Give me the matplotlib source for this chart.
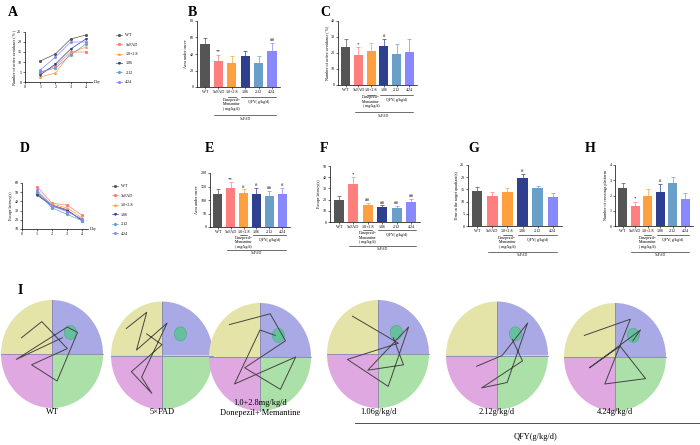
import numpy as np
import matplotlib
matplotlib.use("Agg")
import matplotlib.pyplot as plt
from matplotlib.patches import Wedge, Ellipse

plt.rcParams['font.family'] = ['Liberation Serif', 'DejaVu Serif']

W, H = 700, 445
groups = ['WT', '5xFAD', '1.0+2.8', '1.06', '2.12', '4.24']
colors = ['#555555', '#ff7f7f', '#ffa040', '#2f3f8f', '#6aa0c8', '#8888ff']
days = [1, 2, 3, 4]

# A: number of active avoidance (%)
a_lines = [[10.5, 14, 21.5, 23.5], [4.5, 8, 15, 15], [2.5, 4.5, 14.5, 17.5],
           [3.5, 9, 16.5, 21.5], [5, 7, 13.5, 19], [6, 12.5, 20, 20]]
# D: escape latency
d_lines = [[48, 36, 31, 19], [56, 38, 36, 25], [50, 37, 33, 22],
           [47, 35, 30, 20], [50, 33, 26, 19], [52, 35, 29, 21]]

b_vals = [52, 32, 29, 37, 29, 44]; b_err = [7, 7, 8, 7, 8, 9]
c_vals = [23.5, 18.5, 21, 24.5, 19.5, 20.5]; c_err = [5.5, 5, 5, 4, 6, 8]
e_vals = [122, 145, 127, 124, 114, 122]; e_err = [20, 22, 12, 20, 20, 22]
f_vals = [20, 34, 15, 13, 12.5, 18]; f_err = [3, 6, 2, 2, 2, 2.5]
g_vals = [14.5, 12.5, 14, 19.5, 15.5, 12]; g_err = [1.5, 1.5, 1.5, 2, 1, 1.5]
h_vals = [2.5, 1.3, 2.0, 2.25, 2.85, 1.8]; h_err = [0.35, 0.3, 0.4, 0.5, 0.35, 0.35]

b_marks = ['', '**', '', '', '', '##']
c_marks = ['', '*', '', '#', '', '']
e_marks = ['', '**', '#', '#', '##', '#']
f_marks = ['', '*', '##', '##', '##', '##']
g_marks = ['', '', '', '#', '', '']
h_marks = ['', '*', '', '#', '', '']

maze_labels = ['WT', '5×FAD', '1.0+2.8mg/kg/d\nDonepezil+ Memantine',
               '1.06g/kg/d', '2.12g/kg/d', '4.24g/kg/d']
# rough swim paths (unit circle coords), one per maze
paths = [
    [(-0.6, 0.3), (-0.2, 0.6), (0.3, 0.1), (-0.4, -0.2), (0.1, -0.5), (0.5, 0.4), (0.3, 0.5), (-0.7, -0.1), (0.2, 0.3)],
    [(-0.7, 0.5), (-0.3, 0.8), (-0.5, 0.1), (0.1, 0.6), (-0.4, -0.4), (-0.2, -0.7), (-0.6, -0.3), (0.0, 0.2), (-0.3, 0.4)],
    [(-0.6, 0.6), (0.2, 0.8), (0.5, 0.3), (-0.3, -0.2), (0.4, -0.6), (0.7, 0.0), (-0.5, -0.5), (0.0, 0.5), (0.3, 0.4)],
    [(-0.5, 0.7), (0.4, 0.2), (-0.6, -0.1), (0.2, -0.6), (0.6, 0.5), (-0.2, -0.3), (0.5, -0.2), (0.3, 0.3)],
    [(-0.4, -0.2), (0.1, 0.0), (0.6, 0.6), (0.2, -0.5), (-0.3, -0.6), (0.5, -0.1), (0.3, 0.3)],
    [(-0.6, 0.4), (0.3, 0.7), (-0.2, -0.5), (0.6, -0.4), (0.1, 0.2), (-0.5, -0.2), (0.5, 0.5), (0.35, 0.3)],
]

fig = plt.figure(figsize=(W / 100, H / 100), dpi=100)


def add_ax(x0, y0, x1, y1):
    return fig.add_axes([x0 / W, 1 - y1 / H, (x1 - x0) / W, (y1 - y0) / H])


def style(ax):
    for s in ['top', 'right']:
        ax.spines[s].set_visible(False)
    for s in ['left', 'bottom']:
        ax.spines[s].set_linewidth(0.5)
    ax.tick_params(labelsize=3, width=0.4, length=1.5, pad=1)


def panel_letter(x, y, s):
    fig.text(x / W, 1 - y / H, s, fontsize=10, fontweight='bold', va='center')


def bar_panel(box, vals, err, marks, ylim, yticks, ylabel):
    ax = add_ax(*box)
    x = np.arange(len(vals))
    ax.bar(x, vals, width=0.7, color=colors)
    for i in range(len(vals)):
        ax.errorbar(x[i], vals[i], yerr=[[0], [err[i]]], color=colors[i], elinewidth=0.5,
                    capsize=1.2, capthick=0.5, fmt='none')
    for i, m in enumerate(marks):
        if m:
            ax.text(i, vals[i] + err[i] + ylim[1] * 0.03, m, ha='center', fontsize=3.5)
    ax.set_xlim(-0.6, len(vals) - 0.4)
    ax.set_ylim(*ylim)
    ax.set_yticks(yticks)
    ax.set_xticks(x)
    ax.set_xticklabels(['WT', '5xFAD', '1.0+2.8', '1.06', '2.12', '4.24'])
    ax.set_ylabel(ylabel, fontsize=3, labelpad=1)
    style(ax)
    tr = ax.get_xaxis_transform()
    ax.text(2, -0.16, 'Donepezil+\nMemantine\n( mg/kg/d)', transform=tr, ha='center', va='top', fontsize=2.8)
    ax.text(4, -0.2, 'QFY( g/kg/d)', transform=tr, ha='center', va='top', fontsize=2.8)
    ax.plot([1.7, 2.3], [-0.15, -0.15], transform=tr, clip_on=False, lw=0.4, color='k')
    ax.plot([2.7, 5.3], [-0.15, -0.15], transform=tr, clip_on=False, lw=0.4, color='k')
    ax.plot([0.7, 5.3], [-0.42, -0.42], transform=tr, clip_on=False, lw=0.4, color='k')
    ax.text(3, -0.45, '5xFAD', transform=tr, ha='center', va='top', fontsize=2.8)
    return ax


def line_panel(box, data, ylim, yticks, ylabel, legend_x, legend_y):
    ax = add_ax(*box)
    mk = ['o', 's', '^', 'v', 'D', 'o']
    for i, ys in enumerate(data):
        ax.plot(days, ys, color=colors[i], lw=0.5, marker=mk[i], ms=1.2, label=groups[i])
    ax.set_xlim(0, 4.4)
    ax.set_xticks([0, 1, 2, 3, 4])
    ax.set_ylim(*ylim)
    ax.set_yticks(yticks)
    ax.set_ylabel(ylabel, fontsize=3, labelpad=1)
    ax.text(4.55, ylim[0], 'Day', fontsize=3, va='center')
    style(ax)
    ax.legend(loc='upper left', bbox_to_anchor=(legend_x, legend_y), fontsize=3, frameon=False,
              handlelength=1.5, labelspacing=1.3)
    return ax


panel_letter(8, 12, 'A')
line_panel((25, 32, 92, 82), a_lines, (0, 25), [0, 5, 10, 15, 20, 25],
           'Number of active avoidance ( % )', 1.3, 1.05)
panel_letter(188, 12, 'B')
bar_panel((197, 21, 280, 87), b_vals, b_err, b_marks, (0, 80), [0, 20, 40, 60, 80], 'Area under curve')
panel_letter(320, 12, 'C')
bar_panel((338, 21, 417, 85), c_vals, c_err, c_marks, (0, 40), [0, 10, 20, 30, 40],
          'Number of active avoidance ( %)')

panel_letter(20, 148, 'D')
line_panel((22, 183, 88, 229), d_lines, (10, 60), [10, 20, 30, 40, 50, 60],
           'Escape latency(s)', 1.3, 1.05)
panel_letter(205, 148, 'E')
bar_panel((210, 173, 290, 227), e_vals, e_err, e_marks, (0, 200), [0, 50, 100, 150, 200], 'Area under curve')
panel_letter(320, 148, 'F')
bar_panel((330, 166, 420, 222), f_vals, f_err, f_marks, (0, 50), [0, 10, 20, 30, 40, 50], 'Escape latency(s)')
panel_letter(468, 148, 'G')
bar_panel((468, 165, 562, 226), g_vals, g_err, g_marks, (0, 25), [0, 5, 10, 15, 20, 25],
          'Time in the target quadrant(s)')
panel_letter(585, 148, 'H')
bar_panel((615, 165, 693, 226), h_vals, h_err, h_marks, (0, 4), [0, 1, 2, 3, 4],
          'Number of crossings platform')

# I: swim traces
panel_letter(18, 290, 'I')
axI = fig.add_axes([0, 0, 1, 1], zorder=5)
axI.patch.set_alpha(0)
axI.axis('off')
centers = [52, 162, 260, 378, 497, 615]
rx, ry = 51, 54
quad_cols = ['#a9a9e6', '#e4e4a8', '#dfa8e0', '#abe0a8']
cy = 354
for k, cx in enumerate(centers):
    c_y = cy + (k % 3) * 1.5
    tr = matplotlib.transforms.Affine2D().scale(rx, -ry).translate(cx, c_y) + axI.transData
    for j, (t1, t2) in enumerate([(0, 90), (90, 180), (180, 270), (270, 360)]):
        w = Wedge((0, 0), 1, t1, t2, facecolor=quad_cols[j], edgecolor='none', zorder=1)
        w.set_transform(tr)
        axI.add_patch(w)
    axI.add_patch(Ellipse((cx + 0.36 * rx, c_y - 0.4 * ry), 12, 14, facecolor='#66c0a0',
                          edgecolor='#55aa88', lw=0.5, zorder=2))
    p = np.array(paths[k])
    axI.plot([cx, cx, np.nan, cx - rx, cx + rx], [c_y - ry, c_y + ry, np.nan, c_y, c_y],
             color='#8888aa', lw=0.6, zorder=3)
    axI.plot(cx + p[:, 0] * rx, c_y - p[:, 1] * ry, color='#444444', lw=0.7, zorder=4)
    axI.text(cx, 400 + (8 if k == 2 else 12), maze_labels[k], ha='center', va='center', fontsize=6)
axI.plot([355, 700], [423, 423], color='#333333', lw=0.6)
axI.text(535, 437, 'QFY(g/kg/d)', ha='center', va='center', fontsize=6)
axI.set_xlim(0, W)
axI.set_ylim(H, 0)

fig.savefig('out.png', dpi=100)
